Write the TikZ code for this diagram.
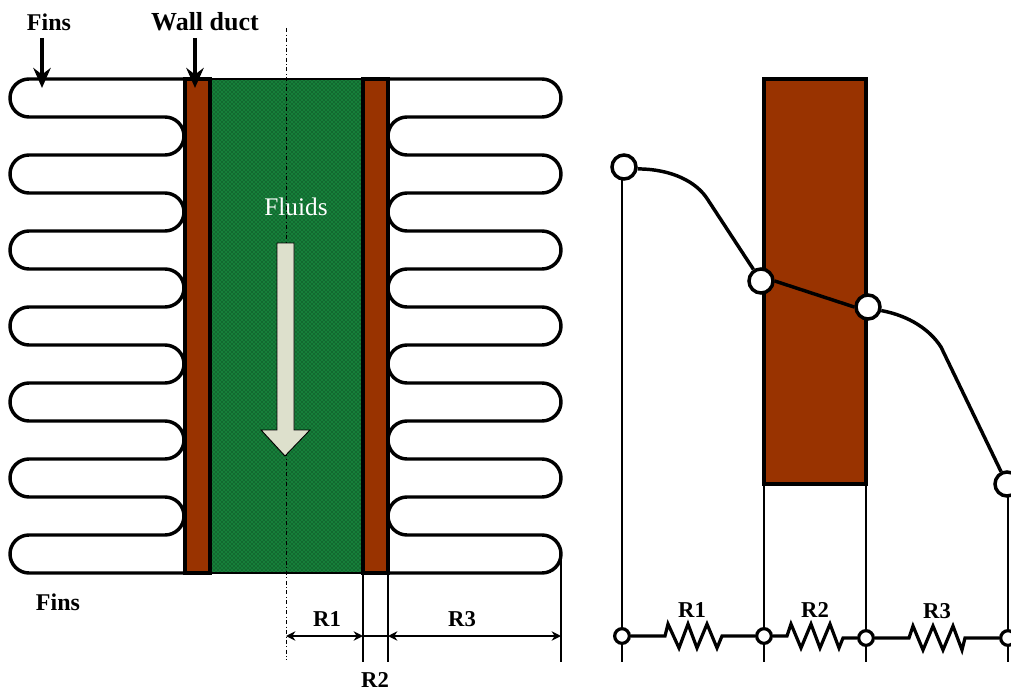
\documentclass[tikz,border=0pt]{standalone}
\usepackage{fontspec}
\setmainfont{Liberation Serif}
\usetikzlibrary{arrows.meta,patterns}
\definecolor{wallbrown}{HTML}{993300}
\definecolor{fluidgreen}{HTML}{167F3A}
\definecolor{fluidarrow}{HTML}{DDE0CC}
\tikzset{
  finline/.style={line width=2.6pt, line join=round},
  wallbox/.style={draw, line width=2.6pt, fill=wallbrown},
  thinline/.style={line width=1.1pt},
  lab/.style={font=\fontsize{18}{18}\selectfont\bfseries, inner sep=0pt},
  dimlab/.style={font=\fontsize{17}{17}\selectfont\bfseries, inner sep=0pt},
  bigdot/.style={circle, draw, line width=2.6pt, fill=white, minimum size=18pt, inner sep=0pt},
  smalldot/.style={circle, draw, line width=2.4pt, fill=white, minimum size=11pt, inner sep=0pt},
  chainline/.style={line width=2.4pt},
  pointer/.style={-{Stealth[length=15pt,width=13pt]}, line width=2.6pt}
}
\begin{document}
\begin{tikzpicture}[x=0.75pt, y=-0.75pt, >={Stealth[length=7pt,width=7pt]}]
  \useasboundingbox (0,0) rectangle (1011,692);
  % fins, left and right
  \draw[finline] (185,79) foreach \y in {79,155,...,459} {
      -- (29,\y) arc[start angle=-90, end angle=-270, radius=19]
      -- (165,\y+38) arc[start angle=-90, end angle=90, radius=19] }
    -- (29,535) arc[start angle=-90, end angle=-270, radius=19] -- (185,573);
  \draw[finline] (388,79) foreach \y in {79,155,...,459} {
      -- (542,\y) arc[start angle=-90, end angle=90, radius=19]
      -- (407,\y+38) arc[start angle=-90, end angle=-270, radius=19] }
    -- (542,535) arc[start angle=-90, end angle=90, radius=19] -- (388,573);
  % duct
  \fill[fluidgreen] (210,79) rectangle (363,573);
  \fill[pattern=crosshatch dots, pattern color=black!70!fluidgreen] (210,79) rectangle (363,573);
  \draw[line width=0.9pt] (210,79) rectangle (363,573);
  \draw[wallbox] (185,79) rectangle (210,573);
  \draw[wallbox] (363,79) rectangle (388,573);
  \draw[dash dot, line width=0.5pt] (286,28) -- (286,660);
  % fluid arrow
  \draw[line width=0.7pt, fill=fluidarrow] (277,243) -- (294,243) -- (294,430) -- (310,430)
    -- (285,456) -- (261,430) -- (277,430) -- cycle;
  \node[font=\fontsize{19}{19}\selectfont, text=white, inner sep=0pt] (fluids) at (296,207) {Fluids};
  % labels on the left
  \node[lab] (fins1) at (49,22) {Fins};
  \node[lab, font=\fontsize{19.5}{19.5}\selectfont\bfseries] (wall) at (205,22) {Wall duct};
  \node[lab] (fins2) at (58,602) {Fins};
  \coordinate (fintop) at (42,38);
  \coordinate (fintip) at (42,88);
  \coordinate (walltop) at (195,38);
  \coordinate (walltip) at (195,88);
  \draw[pointer] (fintop) -- (fintip);
  \draw[pointer] (walltop) -- (walltip);
  % dimensions
  \coordinate (d1) at (286,636);
  \coordinate (d2) at (363,636);
  \coordinate (d3) at (388,636);
  \coordinate (d4) at (561,636);
  \draw[thinline] (363,573) -- (363,662);
  \draw[thinline] (388,573) -- (388,662);
  \draw[thinline] (561,553) -- (561,662);
  \draw[<->, thinline] (d1) -- (d2);
  \draw[thinline] (d2) -- (d3);
  \draw[<->, thinline] (d3) -- (d4);
  \node[dimlab] (r1) at (327,619) {R1};
  \node[dimlab] (r2) at (375,680) {R2};
  \node[dimlab] (r3) at (462,619) {R3};
  % temperature profile
  \draw[thinline] (622,168) -- (622,662);
  \draw[thinline] (764,484) -- (764,662);
  \draw[thinline] (866,484) -- (866,662);
  \draw[thinline] (1008,484) -- (1008,662);
  \draw[wallbox] (764,79) rectangle (866,484);
  \node[bigdot] (ta) at (624,167) {};
  \node[bigdot] (tb) at (761,281) {};
  \node[bigdot] (tc) at (868,307) {};
  \node[bigdot] (td) at (1007,484) {};
  \draw[finline] (ta.-8) .. controls (672,169) and (697,182) .. (708,200) -- (tb);
  \draw[finline] (tb.east) -- (tc.west);
  \draw[finline] (tc.-15) .. controls (910,316) and (930,330) .. (941,347) -- (td);
  % resistor chain
  \node[smalldot] (na) at (622,636) {};
  \node[smalldot] (nb) at (764,636) {};
  \node[smalldot] (nc) at (866,638) {};
  \node[smalldot] (nd) at (1008,638) {};
  \draw[chainline] (na) -- (665,636) -- ++(3,-12) -- ++(11,24) -- ++(9,-24)
    -- ++(9,24) -- ++(10,-24) -- ++(10,24) -- (722,636) -- (nb);
  \draw[chainline] (nb) -- (787,636) -- ++(4,-12) -- ++(10,24) -- ++(10,-24)
    -- ++(9,24) -- ++(10,-24) -- ++(9,24) -- (843,638) -- (nc);
  \draw[chainline] (nc) -- (909,638) -- ++(4,-12) -- ++(10,24) -- ++(10,-24)
    -- ++(10,24) -- ++(10,-24) -- ++(9,24) -- (965,638) -- (nd);
  \node[dimlab] (lr1) at (692,610) {R1};
  \node[dimlab] (lr2) at (815,610) {R2};
  \node[dimlab] (lr3) at (937,611) {R3};
\end{tikzpicture}
\end{document}
